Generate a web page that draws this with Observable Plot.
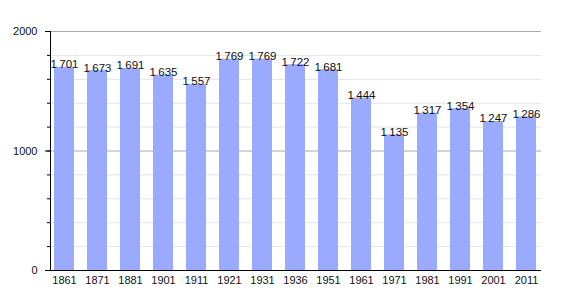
<!DOCTYPE html>
<html>
<head>
<meta charset="utf-8">
<script src="https://cdn.jsdelivr.net/npm/d3@7"></script>
<script src="https://cdn.jsdelivr.net/npm/@observablehq/plot@0.6"></script>
<style>
  html, body { margin: 0; padding: 0; background: #fff; }
</style>
</head>
<body>
<div id="chart"></div>
<script>
const years = ["1861","1871","1881","1901","1911","1921","1931","1936","1951","1961","1971","1981","1991","2001","2011"];
const population = [1701,1673,1691,1635,1557,1769,1769,1722,1681,1444,1135,1317,1354,1247,1286];
const majorTicks = [0, 1000, 2000];
const minorTicks = [200, 400, 600, 800, 1200, 1400, 1600, 1800];

const data = years.map((y, i) => ({year: y, value: population[i]}));
const fmt = d3.formatLocale({decimal: ",", thousands: "\u2009", grouping: [3], currency: ["", ""]}).format(",d");

const chart = Plot.plot({
  width: 570,
  height: 300,
  marginLeft: 50,
  marginRight: 29,
  marginTop: 31,
  marginBottom: 30,
  style: {fontFamily: "Liberation Sans, Arial, sans-serif", fontSize: "11px", color: "#111", background: "#fff"},
  x: {domain: years, paddingInner: 0.38, paddingOuter: 0, label: null},
  y: {domain: [0, 2000], label: null},
  marks: [
    Plot.ruleY(minorTicks, {stroke: "#e4e4e4", strokeWidth: 1}),
    Plot.ruleY([1000, 2000], {stroke: "#aaa", strokeWidth: 1}),
    Plot.barY(data, {x: "year", y: "value", fill: "#99aaff"}),
    Plot.text(data, {x: "year", y: "value", text: d => fmt(d.value), lineAnchor: "bottom", dy: 1, fill: "#111", fontSize: 11.5}),
    Plot.axisY({ticks: d3.range(0, 2001, 200), tickSize: 3, tickFormat: () => "", stroke: "#000"}),
    Plot.axisY({ticks: majorTicks, tickSize: 5, tickPadding: 8, tickFormat: d => String(d), stroke: "#000", fill: "#111"}),
    Plot.axisX({tickSize: 0, tickPadding: 6, fill: "#111"}),
    Plot.frame({anchor: "left", stroke: "#000"}),
    Plot.ruleY([0], {stroke: "#000"})
  ]
});
document.getElementById("chart").appendChild(chart);
</script>
</body>
</html>
